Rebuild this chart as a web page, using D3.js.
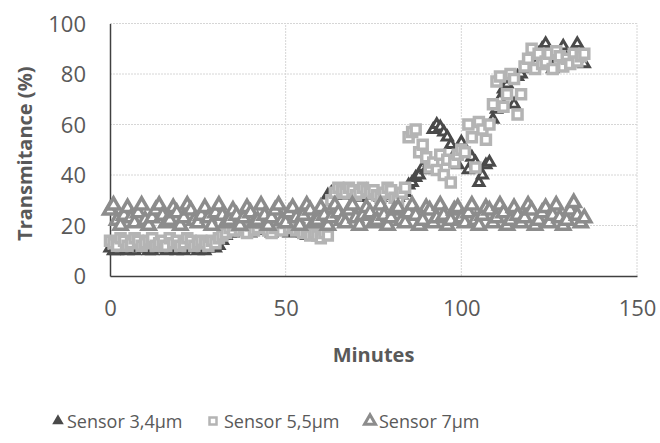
<!DOCTYPE html>
<html>
<head>
<meta charset="utf-8">
<script src="https://cdn.jsdelivr.net/npm/d3@7"></script>
<style>
    body { margin: 0; background: #fff; }
    text { font-family: "Open Sans", sans-serif; fill: #595959; }
</style>
</head>
<body>
<div id="chart"></div>
<script>
// sampled once per minute
const minutes = d3.range(0, 136);

const sensor34 = [
    11,10,10,11,12,10,11,10,11,12,11,10,10,11,12,11,10,11,12,10,11,10,11,12,11,10,11,10,11,12,
    11,12,14,16,17,17,18,
    19,18,20,17,19,18,20,19,18,17,19,20,18,19,17,18,20,19,17,16,17,16,17,
    20,25,32,33,32,33,33,
    32,33,33,32,31,33,34,33,32,33,31,32,33,33,32,31,32,33,
    36,37,39,40,43,42,45,
    58,60,59,57,55,52,
    48,44,53,50,42,47,45,37,40,44,
    45,62,66,70,74,76,78,68,
    79,80,82,85,87,84,88,90,92,89,82,85,88,91,86,87,85,92,88,84
];

const sensor55 = [
    14,13,12,15,14,12,13,15,14,12,13,14,15,12,13,14,12,15,13,14,12,13,15,14,12,13,14,13,12,14,
    13,15,16,17,19,18,20,
    18,19,17,20,18,19,21,20,18,17,19,20,18,21,19,20,18,19,17,18,
    16,17,16,15,17,16,
    30,33,35,34,33,35,34,32,33,35,34,33,34,32,31,33,35,34,31,30,33,35,
    55,57,58,49,
    52,47,43,45,42,48,40,46,37,45,48,
    50,49,60,55,43,61,58,54,
    60,68,77,79,67,72,80,78,64,
    72,83,86,90,82,88,84,85,88,82,89,87,83,86,84,88,85,87,88
];

const sensor7 = [
    26,28,22,20,24,27,23,21,25,28,
    22,20,23,26,28,24,21,22,27,25,
    20,23,28,26,22,21,24,27,23,20,
    25,28,24,21,22,26,24,20,23,27,
    25,21,22,28,24,20,23,26,28,22,
    21,25,27,23,20,24,28,26,21,22,
    27,24,20,23,28,25,22,21,26,28,
    23,20,24,27,25,21,22,28,24,20,
    23,26,27,22,21,25,28,24,20,22,
    27,26,21,23,28,24,20,22,26,27,
    23,21,25,28,22,20,24,27,26,21,
    23,28,25,20,22,27,24,21,23,28,
    26,20,22,25,27,21,24,28,23,20,
    22,26,29,24,21,23
];

const xTicks = [0, 50, 100, 150];
const yTicks = [0, 20, 40, 60, 80, 100];

const seriesNames = ['Sensor 3,4\u00b5m', 'Sensor 5,5\u00b5m', 'Sensor 7\u00b5m'];

function trianglePath(s) {
    const h = s * 0.866;
    return `M0,${-h * 2 / 3}L${s / 2},${h / 3}L${-s / 2},${h / 3}Z`;
}

function squarePath(s) {
    return `M${-s / 2},${-s / 2}h${s}v${s}h${-s}Z`;
}

function drawChart() {
    const width = 660;
    const height = 443;
    const margin = { left: 110, right: 23, top: 23.5, bottom: 167 };

    const svg = d3.select('#chart').append('svg')
        .attr('width', width)
        .attr('height', height);

    const x = d3.scaleLinear()
        .domain([0, 150])
        .range([margin.left, width - margin.right]);
    const y = d3.scaleLinear()
        .domain([0, 100])
        .range([height - margin.bottom, margin.top]);

    // gridlines
    svg.append('g')
        .selectAll('line')
        .data(yTicks.filter(d => d > 0))
        .join('line')
        .attr('x1', x(0))
        .attr('x2', x(150))
        .attr('y1', d => y(d))
        .attr('y2', d => y(d))
        .attr('stroke', '#d6d6d6')
        .attr('stroke-dasharray', '2,1');

    svg.append('g')
        .selectAll('line')
        .data(xTicks.filter(d => d > 0))
        .join('line')
        .attr('x1', d => x(d))
        .attr('x2', d => x(d))
        .attr('y1', y(0))
        .attr('y2', y(100))
        .attr('stroke', '#d6d6d6')
        .attr('stroke-dasharray', '2,1');

    // axes
    const xAxis = svg.append('g')
        .attr('transform', `translate(0,${y(0)})`)
        .call(d3.axisBottom(x).tickValues(xTicks).tickSize(0).tickPadding(24));
    const yAxis = svg.append('g')
        .attr('transform', `translate(${x(0)},0)`)
        .call(d3.axisLeft(y).tickValues(yTicks).tickSize(0).tickPadding(24));

    [xAxis, yAxis].forEach(a => {
        a.select('.domain').attr('stroke', '#404040').attr('stroke-width', 1.5);
        a.selectAll('text')
            .style('font-family', '"Open Sans", sans-serif')
            .style('font-size', '22px')
            .attr('fill', '#595959');
    });
    yAxis.selectAll('text').attr('dy', '0.35em');

    // series, drawn in Excel order
    const data34 = minutes.map((m, i) => ({ m: m, v: sensor34[i] }));
    const data55 = minutes.map((m, i) => ({ m: m, v: sensor55[i] }));
    const data7 = minutes.map((m, i) => ({ m: m, v: sensor7[i] }));

    svg.append('g')
        .selectAll('path')
        .data(data34)
        .join('path')
        .attr('d', trianglePath(10))
        .attr('transform', d => `translate(${x(d.m)},${y(d.v)})`)
        .attr('fill', '#fff')
        .attr('stroke', '#4a4a4a')
        .attr('stroke-width', 3);

    svg.append('g')
        .selectAll('path')
        .data(data55)
        .join('path')
        .attr('d', squarePath(9))
        .attr('transform', d => `translate(${x(d.m)},${y(d.v)})`)
        .attr('fill', '#fff')
        .attr('stroke', '#b4b4b4')
        .attr('stroke-width', 3.5);

    svg.append('g')
        .selectAll('path')
        .data(data7)
        .join('path')
        .attr('d', trianglePath(13))
        .attr('transform', d => `translate(${x(d.m)},${y(d.v)})`)
        .attr('fill', '#fff')
        .attr('stroke', '#8c8c8c')
        .attr('stroke-width', 3.5);

    // axis titles
    svg.append('text')
        .attr('x', (x(0) + x(150)) / 2)
        .attr('y', 362)
        .attr('text-anchor', 'middle')
        .style('font-size', '20px')
        .style('font-weight', 'bold')
        .text('Minutes');

    svg.append('text')
        .attr('transform', `translate(32,${(y(0) + y(100)) / 2 + 4}) rotate(-90)`)
        .attr('text-anchor', 'middle')
        .style('font-size', '20px')
        .style('font-weight', 'bold')
        .text('Transmitance (%)');

    // legend
    const legendX = [58, 213, 370];
    const legendMarks = [
        { d: trianglePath(9), fill: '#4a4a4a', stroke: '#4a4a4a', sw: 1.5 },
        { d: squarePath(7), fill: '#fff', stroke: '#b4b4b4', sw: 2.5 },
        { d: trianglePath(11), fill: '#fff', stroke: '#8c8c8c', sw: 3 }
    ];
    const legend = svg.append('g');
    seriesNames.forEach((name, i) => {
        legend.append('path')
            .attr('d', legendMarks[i].d)
            .attr('transform', `translate(${legendX[i]},${421})`)
            .attr('fill', legendMarks[i].fill)
            .attr('stroke', legendMarks[i].stroke)
            .attr('stroke-width', legendMarks[i].sw);
        legend.append('text')
            .attr('x', legendX[i] + (i === 1 ? 11 : 9))
            .attr('y', 428)
            .style('font-size', '18px')
            .text(name);
    });
}

drawChart();
</script>
</body>
</html>
